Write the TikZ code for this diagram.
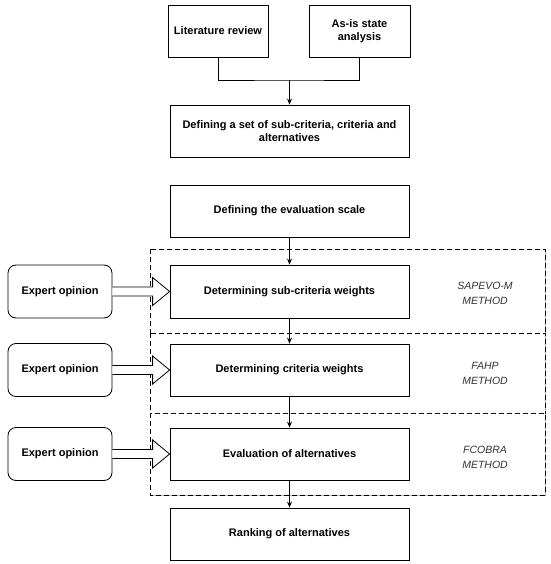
\documentclass[tikz,border=0pt]{standalone}
\usepackage{fontspec}
\setmainfont{Liberation Sans}
\usetikzlibrary{calc,arrows.meta,shadows}
\begin{document}
\begin{tikzpicture}[x=1pt,y=-1pt,
  box/.style={draw=black,line width=0.8pt,fill=white,minimum width=239pt,minimum height=52pt,inner sep=2pt,align=center,font=\fontsize{11}{13.5}\selectfont\bfseries},
  topbox/.style={box,minimum width=100pt},
  expert/.style={box,minimum width=104pt,minimum height=53pt,rounded corners=8pt},
  group/.style={draw=black,fill=white,line width=0.9pt,dash pattern=on 5pt off 3pt,drop shadow={shadow xshift=1.2pt,shadow yshift=-1.2pt,opacity=0.3,fill=black}},
  meth/.style={align=center,font=\fontsize{10.5}{15}\selectfont\itshape,text=black!80},
  arr/.style={line width=0.8pt,-{Stealth[length=6pt,width=5pt]}},
  blockarrow/.style={draw=black,line width=0.8pt,fill=white,line join=miter}]
\useasboundingbox (0,0) rectangle (550,564);
% dashed groups
\draw[group] (150,249) rectangle (545,333);
\draw[group] (150,333) rectangle (545,413);
\draw[group] (150,413) rectangle (545,495);
% nodes
\node[topbox] (lit) at (218,31) {Literature review};
\node[topbox,minimum width=101pt] (asis) at (359.5,31) {As-is state\\analysis};
\node[box] (set) at (289.5,131) {Defining a set of sub-criteria, criteria and\\alternatives};
\node[box] (scale) at (289.5,211) {Defining the evaluation scale};
\node[box,minimum height=53pt] (sub) at (289.5,291.5) {Determining sub-criteria weights};
\node[box] (crit) at (289.5,370) {Determining criteria weights};
\node[box] (eval) at (289.5,454) {Evaluation of alternatives};
\node[box] (rank) at (289.5,534) {Ranking of alternatives};
\node[expert] (e1) at (60,291.5) {Expert opinion};
\node[expert] (e2) at (60,370) {Expert opinion};
\node[expert] (e3) at (60,454) {Expert opinion};
\node[meth] (m1) at (485,293) {SAPEVO-M\\METHOD};
\node[meth] (m2) at (485,373) {FAHP\\METHOD};
\node[meth] (m3) at (485,457) {FCOBRA\\METHOD};
% connectors
\coordinate (j) at (289.5,80);
\draw[line width=0.8pt] (lit.south) |- (j) -| (asis.south);
\draw[arr] (j) -- (set.north);
\draw[arr] (scale.south) -- (sub.north);
\draw[arr] (sub.south) -- (crit.north);
\draw[arr] (crit.south) -- (eval.north);
\draw[arr] (eval.south) -- (rank.north);
% block arrows
\foreach \e/\b in {e1/sub,e2/crit,e3/eval}{
  \draw[blockarrow] ($(\e.east)+(0,-4.5)$) -- ($(\b.west)+(-17,-4.5)$) -- ($(\b.west)+(-17,-14)$) -- (\b.west) -- ($(\b.west)+(-17,14)$) -- ($(\b.west)+(-17,4.5)$) -- ($(\e.east)+(0,4.5)$);
}
\end{tikzpicture}
\end{document}
